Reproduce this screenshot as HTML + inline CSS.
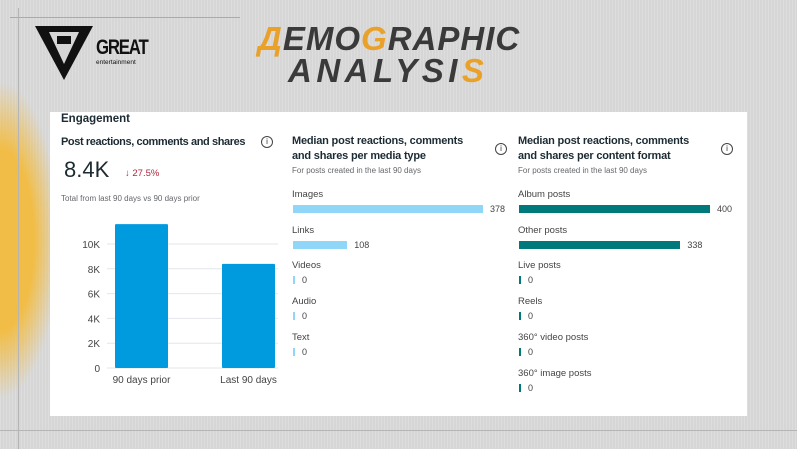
<!DOCTYPE html>
<html><head><meta charset="utf-8">
<style>
*{margin:0;padding:0;box-sizing:border-box}
body{width:797px;height:449px;overflow:hidden;position:relative;font-family:"Liberation Sans",sans-serif;
background:#d6d6d6;background-image:repeating-linear-gradient(90deg,rgba(255,255,255,.18) 0 1px,transparent 1px 3px);}
.t{position:absolute;white-space:nowrap;color:#1c2b33}
.h{font-weight:bold;font-size:11px;line-height:15px;letter-spacing:-0.2px}
.s{font-size:8px;color:#65676b}
.l{font-size:9.5px;color:#444}
.v{font-size:9px;color:#444}
</style></head><body>
<div style="position:absolute;left:0;top:80px;width:60px;height:320px;background:radial-gradient(ellipse at 0% 50%,#f2bd46 0%,#f2bd46 40%,rgba(242,189,70,0) 70%)"></div>
<div style="position:absolute;left:10px;top:17px;width:230px;height:1px;background:#aaa"></div>
<div style="position:absolute;left:18px;top:8px;width:1px;height:441px;background:#b5b5b5"></div>
<div style="position:absolute;left:0;top:430px;width:797px;height:1px;background:#b5b5b5"></div>
<svg style="position:absolute;left:35px;top:26px" width="60" height="56"><polygon points="0,0 58,0 29,54" fill="#111"/><polygon points="14,6 44,6 29,38" fill="#d6d6d6"/><rect x="22" y="10" width="14" height="8" fill="#111"/></svg>
<div class="t" style="left:96px;top:36px;font-size:21px;font-weight:bold;color:#111;letter-spacing:-1.5px;transform:scaleX(0.8);transform-origin:0 0">GREAT</div>
<div class="t" style="left:96px;top:59px;font-size:6.5px;color:#111">entertainment</div>
<div class="t" style="left:258px;top:22px;font-size:33px;font-weight:bold;font-style:italic;color:#3a3a3a;transform:scaleX(1.0);transform-origin:0 0;line-height:33px;letter-spacing:1px"><span style="color:#e9a12a">Д</span>EMO<span style="color:#e9a12a">G</span>RAPHIC</div>
<div class="t" style="left:288px;top:54px;font-size:33px;font-weight:bold;font-style:italic;color:#3a3a3a;transform:scaleX(1.0);transform-origin:0 0;line-height:33px;letter-spacing:4.5px">ANALYSI<span style="color:#e9a12a">S</span></div>

<div style="position:absolute;left:50px;top:112px;width:697px;height:304px;background:#fff"></div>
<div class="t" style="left:61px;top:113px;font-size:11.5px;font-weight:bold">Engagement</div>

<div class="t h" style="left:61px;top:135px;letter-spacing:-0.4px">Post reactions, comments and shares</div>
<div class="t" style="left:261px;top:136px;width:12px;height:12px;border:1px solid #444;border-radius:50%;font-size:8px;text-align:center;line-height:10px">i</div>
<div class="t" style="left:64px;top:157px;font-size:22px">8.4K</div>
<div class="t" style="left:125px;top:168px;font-size:9.5px;color:#b3263d">↓ 27.5%</div>
<div class="t s" style="left:61px;top:194px">Total from last 90 days vs 90 days prior</div>
<svg id="bar" style="position:absolute;left:0;top:0" width="797" height="449"></svg>
<div id="lists"></div>

<div class="t h" style="left:292px;top:134px">Median post reactions, comments<br>and shares per media type</div>
<div class="t" style="left:495px;top:143px;width:12px;height:12px;border:1px solid #444;border-radius:50%;font-size:8px;text-align:center;line-height:10px">i</div>
<div class="t s" style="left:292px;top:166px">For posts created in the last 90 days</div>
<div class="t h" style="left:518px;top:134px">Median post reactions, comments<br>and shares per content format</div>
<div class="t" style="left:721px;top:143px;width:12px;height:12px;border:1px solid #444;border-radius:50%;font-size:8px;text-align:center;line-height:10px">i</div>
<div class="t s" style="left:518px;top:166px">For posts created in the last 90 days</div>

<script>
const periods=["90 days prior","Last 90 days"];
const totals=[11.6,8.4];
const yTicks=[0,2,4,6,8,10];
const mediaTypes=["Images","Links","Videos","Audio","Text"];
const mediaValues=[378,108,0,0,0];
const formats=["Album posts","Other posts","Live posts","Reels","360° video posts","360° image posts"];
const formatValues=[400,338,0,0,0,0];

const NS="http://www.w3.org/2000/svg";
const svg=document.getElementById('bar');
const y=v=>368-v*12.4;
const x=i=>115+i*107;
function mk(t,a){const e=document.createElementNS(NS,t);for(const k in a)e.setAttribute(k,a[k]);svg.appendChild(e);return e;}
yTicks.forEach(t=>{
  const g=mk('line',{x1:107,x2:278,y1:y(t),y2:y(t),stroke:'#e4e6eb','stroke-width':1});
  
  
  const tx=mk('text',{x:100,y:y(t)+4,'text-anchor':'end','font-size':10,fill:'#444','font-family':'Liberation Sans'});
  tx.textContent=t===0?'0':t+'K';
  
  
});
totals.forEach((v,i)=>{
  const r=mk('rect',{x:x(i),y:y(v),width:53,height:368-y(v),fill:'#009ade',rx:1});
  
  
  const tx=mk('text',{x:x(i)+26.5,y:383,'text-anchor':'middle','font-size':10,fill:'#444','font-family':'Liberation Sans'});
  tx.textContent=periods[i];
  
  
});
const lists=document.getElementById('lists');
function list(names,vals,left,scale,color){
  names.forEach((n,i)=>{
    const top=189+i*35.7;
    const lab=document.createElement('div');
    lab.className='t l';lab.style.left=left+'px';lab.style.top=top+'px';lab.textContent=n;
    
    
    lists.appendChild(lab);
    const w=Math.max(2,vals[i]*scale);
    const b=document.createElement('div');
    b.style.cssText=`position:absolute;left:${left+1}px;top:${top+16}px;width:${w}px;height:8px;background:${color}`;
    
    
    lists.appendChild(b);
    const v=document.createElement('div');
    v.className='t v';v.style.left=(left+1+w+7)+'px';v.style.top=(top+15)+'px';v.textContent=vals[i];
    
    
    lists.appendChild(v);
  });
}
list(mediaTypes,mediaValues,292,190/378,'#8fd6f8');
list(formats,formatValues,518,191/400,'#00797c');
</script>
</body></html>
